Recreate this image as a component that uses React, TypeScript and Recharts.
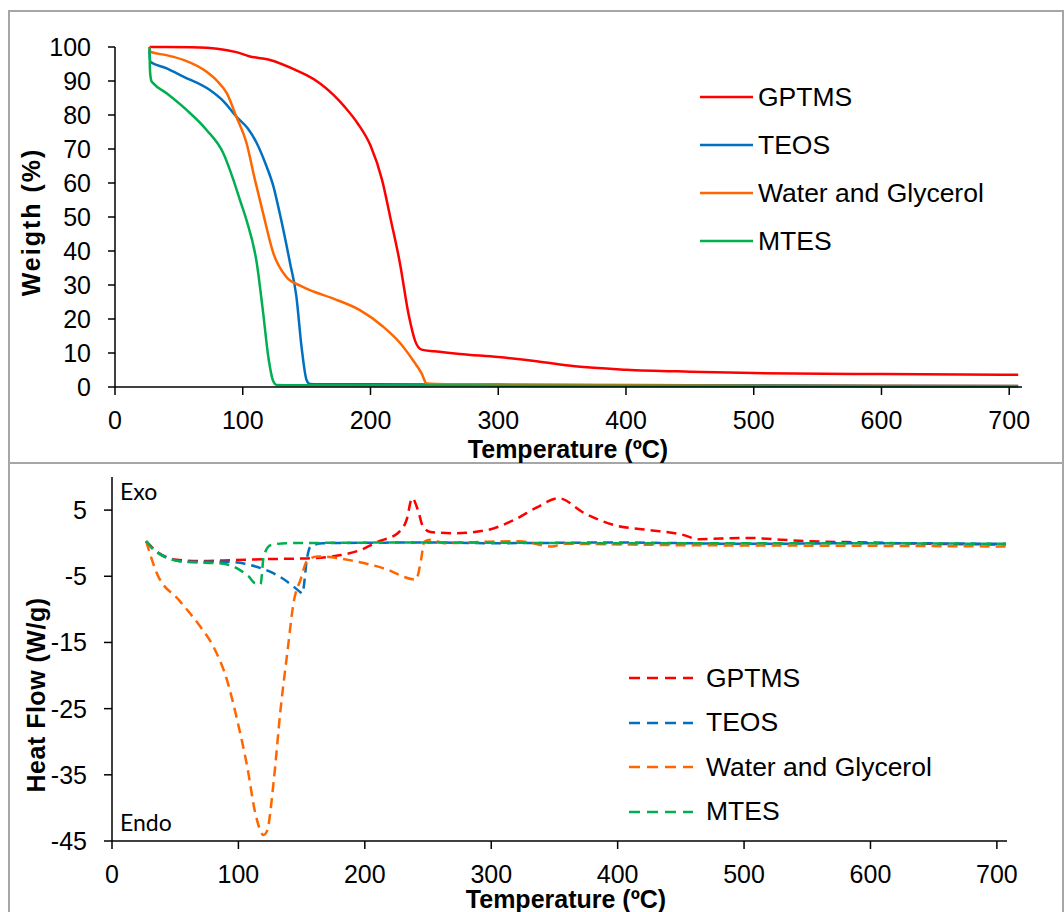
import { LineChart, Line, XAxis, YAxis, Legend } from "recharts";

const FONT = "'Liberation Sans', Arial, sans-serif";

const SERIES = ["GPTMS", "TEOS", "Water and Glycerol", "MTES"];
const COLORS = ["#FF0000", "#0070C0", "#FF6600", "#00B050"];

const TEMP_TICKS = [0, 100, 200, 300, 400, 500, 600, 700];
const WEIGHT_TICKS = [0, 10, 20, 30, 40, 50, 60, 70, 80, 90, 100];
const HEAT_TICKS = [-45, -35, -25, -15, -5, 5];

// TGA – weight (%) vs temperature
const gptmsTgaT = [27, 40, 60, 80, 95, 105, 120, 145, 150, 160, 171, 180, 190, 200, 209, 216, 223, 230, 235, 240, 250, 270, 300, 330, 360, 400, 450, 500, 600, 707];
const gptmsTgaW = [100, 100, 99.9, 99.5, 98.5, 97.3, 96.3, 92.6, 91.7, 89.4, 85.9, 82.3, 77.5, 71, 61, 49, 36.5, 21, 13.5, 11, 10.5, 9.7, 8.8, 7.6, 6.1, 5.1, 4.5, 4.1, 3.8, 3.6];

const teosTgaT = [27, 27.6, 40, 53.5, 74, 85, 95, 104, 111, 118, 124, 129, 137, 142, 146, 150, 152.6, 160, 200, 300, 400, 500, 600, 707];
const teosTgaW = [99, 95.7, 93.8, 91.3, 87.4, 84, 79.5, 76, 71.7, 65.5, 59, 51, 36.5, 26.6, 11.9, 2, 0.9, 0.8, 0.8, 0.7, 0.6, 0.5, 0.4, 0.3];

const waterTgaT = [27, 27.6, 40, 53.5, 71.7, 80, 87.4, 95, 103, 109.5, 116, 124, 134, 145, 152.6, 171, 191.7, 210, 223, 233, 240, 244, 260, 400, 707];
const waterTgaW = [100, 98.6, 97.6, 96.2, 92.7, 90, 86.5, 79.5, 71.7, 61, 51, 39.3, 32.4, 29.8, 28.5, 26, 22.6, 17.7, 13, 8, 4, 1, 0.8, 0.5, 0.3];

const mtesTgaT = [27, 27.4, 28.5, 30, 40.4, 56, 71.7, 84.7, 92.6, 97.8, 103, 111, 116, 120, 124, 126.5, 140, 300, 500, 707];
const mtesTgaW = [100, 93, 90, 89.3, 86.4, 81.5, 75.6, 68.8, 61, 55, 49, 36.4, 21.7, 8.9, 1.6, 0.6, 0.5, 0.4, 0.3, 0.2];

// DSC – heat flow (W/g) vs temperature
const gptmsDscT = [27, 35, 51, 70, 88, 105, 123, 154, 181, 197, 210, 226, 233, 237.5, 242, 246, 252, 271, 297, 318, 337, 353, 374, 398, 424, 451, 464, 500, 550, 600, 650, 707];
const gptmsDscH = [0.3, -1.2, -2.5, -2.7, -2.6, -2.5, -2.4, -2.3, -1.8, -1.0, 0.2, 1.5, 3.5, 6.8, 5, 2.5, 1.7, 1.5, 2, 3.5, 5.5, 6.8, 4.5, 2.7, 2, 1.3, 0.6, 0.8, 0.3, 0.1, -0.1, -0.2];

const teosDscT = [27, 35, 59, 90, 105, 115, 125, 133, 142, 149, 150.5, 154.5, 157, 167, 250, 300, 400, 500, 600, 707];
const teosDscH = [0.3, -1.3, -2.8, -2.8, -3.1, -3.6, -4.3, -5.1, -6.3, -7.4, -7.6, -2.0, -0.5, 0, 0.1, 0, 0.1, -0.1, 0, -0.1];

const waterDscT = [27, 35.4, 53, 69.8, 80.4, 91, 99, 107, 113.5, 120, 122.8, 128, 133.3, 138.6, 144, 149, 154.5, 162.5, 189, 215, 240.5, 244.4, 247, 252, 263, 295, 322, 348, 358, 450, 600, 707];
const waterDscH = [0.3, -4.5, -8.6, -12.6, -15.7, -20.7, -26.7, -33.8, -40.9, -44.1, -43.4, -35.8, -25.2, -16.7, -8.6, -5.6, -2.6, -2.0, -2.6, -3.8, -5.5, -2.6, 0.2, 0.5, 0, 0.2, 0.3, -0.5, -0.1, -0.3, -0.4, -0.5];

const mtesDscT = [27, 35, 56, 88, 101.6, 108, 113.5, 117.5, 120, 125.4, 138, 250, 400, 550, 707];
const mtesDscH = [0.3, -1.3, -2.8, -3.1, -4.1, -5, -6.1, -6.2, -2, -0.3, 0, 0.1, 0, 0, -0.1];

const zip = (t: number[], v: number[]) => t.map((x, i) => ({ t: x, v: v[i] }));

const tgaData = [zip(gptmsTgaT, gptmsTgaW), zip(teosTgaT, teosTgaW), zip(waterTgaT, waterTgaW), zip(mtesTgaT, mtesTgaW)];
const dscData = [zip(gptmsDscT, gptmsDscH), zip(teosDscT, teosDscH), zip(waterDscT, waterDscH), zip(mtesDscT, mtesDscH)];

const tickStyle = { fill: "#000", fontSize: 25, fontFamily: FONT };
const axisLine = { stroke: "#000", strokeWidth: 1.5 };

function title(text: string, x: number, y: number, vertical = false, spacing = 0) {
  return {
    content: () => (
      <text
        x={x}
        y={y}
        transform={vertical ? `rotate(-90 ${x} ${y})` : undefined}
        textAnchor="middle"
        dominantBaseline="central"
        style={{ fontFamily: FONT, fontSize: 25, fontWeight: 700, fill: "#000", letterSpacing: spacing }}
      >
        {text}
      </text>
    ),
  };
}

function LegendBox({ dashed, rowH, lineW, gap }: { dashed: boolean; rowH: number; lineW: number; gap: number }) {
  return (
    <div style={{ fontFamily: FONT, fontSize: 26.5, color: "#000" }}>
      {SERIES.map((name, i) => (
        <div key={name} style={{ display: "flex", alignItems: "center", height: rowH, whiteSpace: "nowrap" }}>
          <svg width={lineW} height={6} style={{ marginRight: gap, flex: "none" }}>
            <line x1={0} y1={3} x2={lineW} y2={3} stroke={COLORS[i]} strokeWidth={2.5} strokeDasharray={dashed ? "11 7" : undefined} />
          </svg>
          <span>{name}</span>
        </div>
      ))}
    </div>
  );
}

const panel = { position: "absolute" as const, left: 8, width: 1056, border: "2px solid #a6a6a6", boxSizing: "border-box" as const };
const note = { position: "absolute" as const, left: 120, fontFamily: "Lato, 'Noto Sans', sans-serif", fontSize: 23, lineHeight: 1, color: "#000" };

export default function App() {
  return (
    <div style={{ position: "absolute", left: 0, top: 0, width: 1064, height: 912, overflow: "hidden", background: "#fff" }}>
      <div style={{ ...panel, top: 10, height: 454 }} />
      <div style={{ ...panel, top: 462, height: 470 }} />

      <div style={{ position: "absolute", left: 0, top: 0 }}>
        <LineChart width={1064} height={470} margin={{ top: 47, right: 42, bottom: 0, left: 0 }}>
          <XAxis
            type="number"
            dataKey="t"
            domain={[0, 710]}
            ticks={TEMP_TICKS}
            height={83}
            tick={tickStyle}
            tickSize={8}
            tickMargin={16}
            axisLine={axisLine}
            tickLine={axisLine}
            allowDuplicatedCategory={false}
            label={title("Temperature (ºC)", 568, 449)}
          />
          <YAxis
            type="number"
            domain={[0, 100]}
            ticks={WEIGHT_TICKS}
            width={115}
            tick={tickStyle}
            tickSize={7}
            tickMargin={17}
            axisLine={axisLine}
            tickLine={axisLine}
            label={title("Weigth (%)", 31, 222, true, 2)}
          />
          <Legend
            layout="vertical"
            align="center"
            verticalAlign="middle"
            wrapperStyle={{ left: 700, top: 73, width: 350 }}
            content={() => <LegendBox dashed={false} rowH={48} lineW={53} gap={5} />}
          />
          {SERIES.map((name, i) => (
            <Line
              key={name}
              name={name}
              data={tgaData[i]}
              dataKey="v"
              type="monotone"
              stroke={COLORS[i]}
              strokeWidth={2.5}
              dot={false}
              activeDot={false}
              isAnimationActive={false}
            />
          ))}
        </LineChart>
      </div>

      <div style={{ position: "absolute", left: 0, top: 430 }}>
        <LineChart width={1064} height={482} margin={{ top: 47, right: 57, bottom: 0, left: 0 }}>
          <XAxis
            type="number"
            dataKey="t"
            domain={[0, 708]}
            ticks={TEMP_TICKS}
            height={71}
            tick={tickStyle}
            tickSize={8}
            tickMargin={16}
            axisLine={axisLine}
            tickLine={axisLine}
            allowDuplicatedCategory={false}
            label={title("Temperature (ºC)", 566, 469)}
          />
          <YAxis
            type="number"
            domain={[-45, 10]}
            ticks={HEAT_TICKS}
            width={112}
            tick={tickStyle}
            tickSize={8}
            tickMargin={17}
            axisLine={axisLine}
            tickLine={axisLine}
            label={title("Heat Flow (W/g)", 36, 265, true, 0.5)}
          />
          <Legend
            layout="vertical"
            align="center"
            verticalAlign="middle"
            wrapperStyle={{ left: 629, top: 226, width: 420 }}
            content={() => <LegendBox dashed rowH={44.5} lineW={64} gap={13} />}
          />
          {SERIES.map((name, i) => (
            <Line
              key={name}
              name={name}
              data={dscData[i]}
              dataKey="v"
              type="monotone"
              stroke={COLORS[i]}
              strokeWidth={2.5}
              strokeDasharray="10 6"
              dot={false}
              activeDot={false}
              isAnimationActive={false}
            />
          ))}
        </LineChart>
      </div>

      <div style={{ ...note, top: 480 }}>Exo</div>
      <div style={{ ...note, top: 811 }}>Endo</div>
    </div>
  );
}
